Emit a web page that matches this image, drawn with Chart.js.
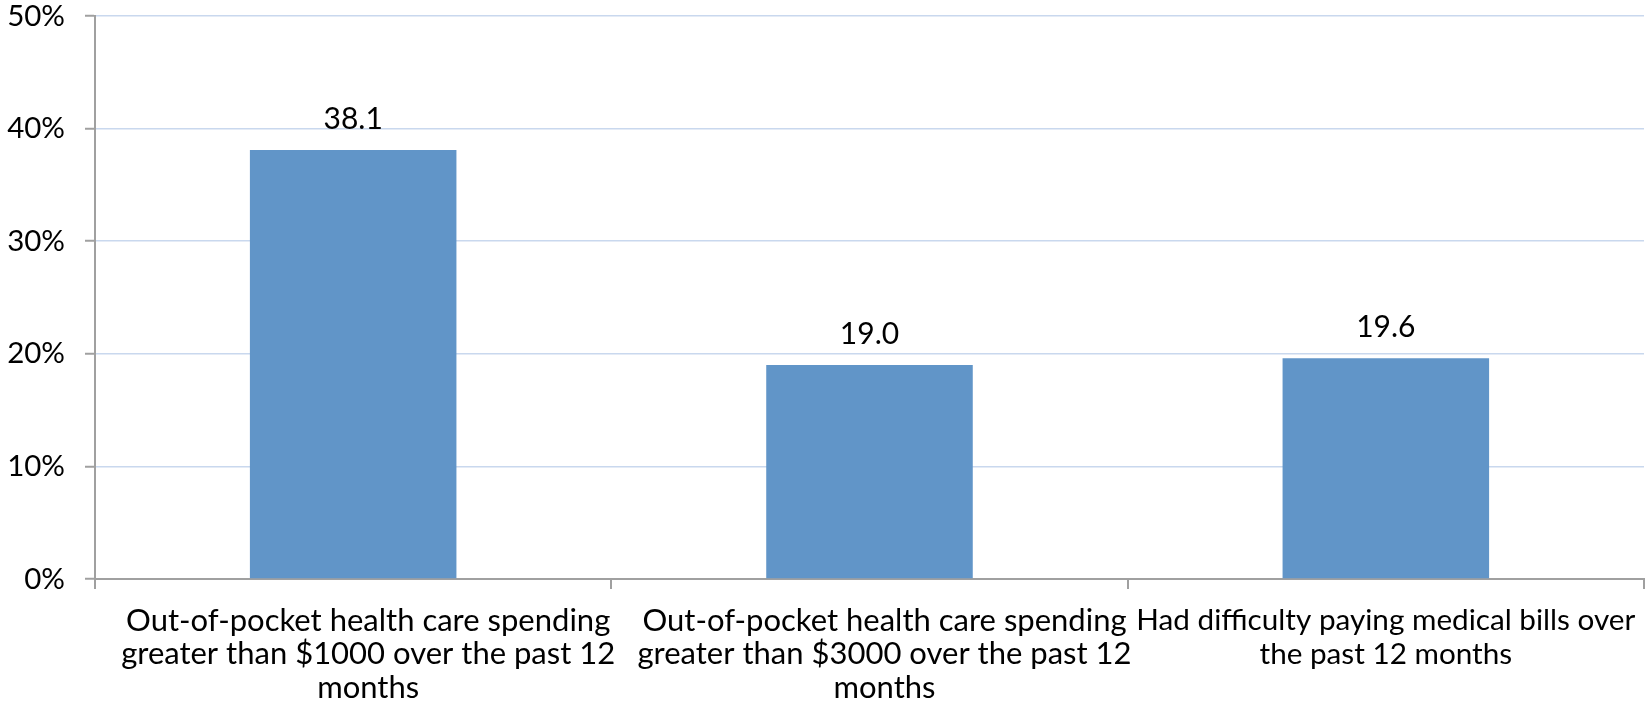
<!DOCTYPE html>
<html>
<head>
<meta charset="utf-8">
<script src="https://cdn.jsdelivr.net/npm/chart.js@4/dist/chart.umd.min.js"></script>
<style>
  html, body { margin: 0; padding: 0; background: #ffffff; }
  #c { display: block; }
</style>
</head>
<body>
<canvas id="c" width="1647" height="708"></canvas>
<script>
const categories = [
  ["Out-of-pocket health care spending", "greater than $1000 over the past 12", "months"],
  ["Out-of-pocket health care spending", "greater than $3000 over the past 12", "months"],
  ["Had difficulty paying medical bills over", "the past 12 months"]
];
const values = [38.1, 19.0, 19.6];
const yTicks = [0, 10, 20, 30, 40, 50];

const FONT = "Lato, 'Open Sans', sans-serif";
const XFS = [31, 31, 29.7];        // per-label font size (style)
const XSHIFT = [15, 15, 0];        // horizontal text-box shift in px (style)
const YFS = 29.5;
const LFS = 30;

const labelPlugin = {
  id: 'barLabels',
  beforeDraw(chart) {
    const xs = chart.scales.x;
    const items = xs.getLabelItems(chart.chartArea);
    items.forEach((it, i) => {
      if (!it._shifted) {
        it.options.translation[0] += XSHIFT[i] || 0;
        it._shifted = true;
      }
    });
  },
  afterDatasetsDraw(chart) {
    const ctx = chart.ctx;
    const meta = chart.getDatasetMeta(0);
    ctx.save();
    ctx.font = LFS + 'px ' + FONT;
    ctx.fillStyle = '#000000';
    ctx.textAlign = 'center';
    ctx.textBaseline = 'middle';
    meta.data.forEach((bar, i) => {
      ctx.fillText(values[i].toFixed(1), bar.x, bar.y - 31);
    });
    ctx.restore();
  }
};

function noPad(scale) {
  scale.paddingTop = 0;
  scale.paddingBottom = 0;
  scale.paddingLeft = 0;
  scale.paddingRight = 0;
}

new Chart(document.getElementById('c'), {
  type: 'bar',
  data: {
    labels: categories,
    datasets: [{
      data: values,
      backgroundColor: '#6195c8',
      borderWidth: 0,
      categoryPercentage: 1.0,
      barPercentage: 0.4
    }]
  },
  options: {
    responsive: false,
    animation: false,
    layout: { padding: { top: 16, right: 3, left: 0, bottom: 0 } },
    plugins: { legend: { display: false }, tooltip: { enabled: false } },
    scales: {
      x: {
        grid: {
          display: true,
          drawOnChartArea: false,
          drawTicks: true,
          tickLength: 10,
          color: '#a0a0a0',
          lineWidth: 2
        },
        border: { display: true, color: '#a0a0a0', width: 2 },
        ticks: {
          color: '#000000',
          font: (ctx) => {
            const s = XFS[ctx.index] || 31;
            return { family: FONT, size: s, lineHeight: 33.5 / s };
          },
          padding: 15,
          maxRotation: 0,
          autoSkip: false
        },
        afterFit(scale) { scale.height = 708 - 579; noPad(scale); }
      },
      y: {
        min: 0,
        max: 50,
        afterBuildTicks(scale) { scale.ticks = yTicks.map(v => ({ value: v })); },
        grid: {
          color: '#c9d8ee',
          lineWidth: 1.5,
          drawTicks: true,
          tickLength: 10,
          tickColor: '#a0a0a0',
          tickWidth: 2
        },
        border: { display: true, color: '#a0a0a0', width: 2 },
        ticks: {
          color: '#000000',
          font: { family: FONT, size: YFS },
          padding: 20,
          callback: v => v + '%'
        },
        afterFit(scale) { scale.width = 95; noPad(scale); }
      }
    }
  },
  plugins: [labelPlugin]
});
</script>
</body>
</html>
